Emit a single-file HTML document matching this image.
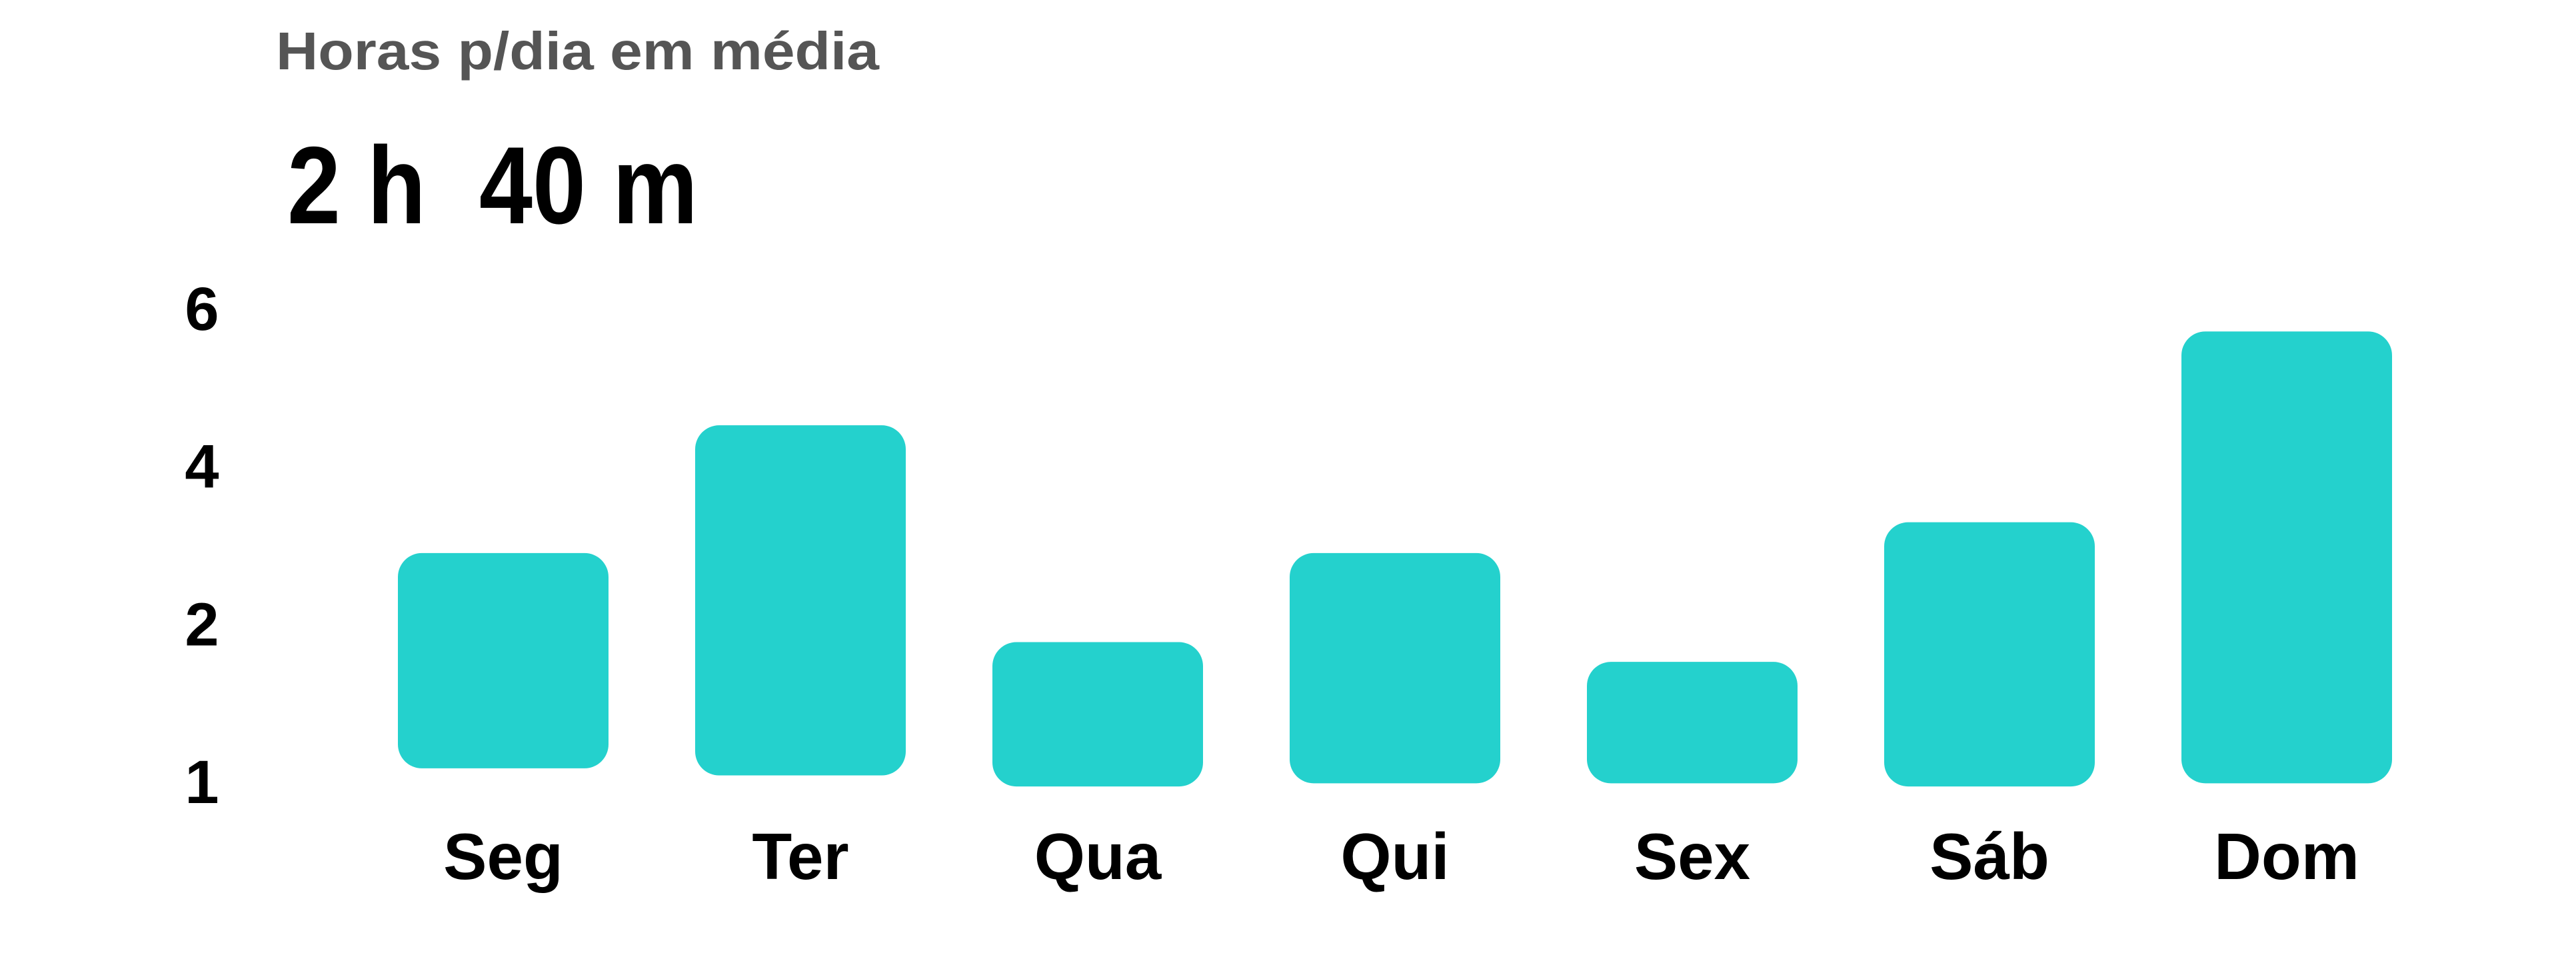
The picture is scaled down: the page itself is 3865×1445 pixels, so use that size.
<!DOCTYPE html>
<html><head><meta charset="utf-8"><style>
html,body{margin:0;padding:0;background:#fff;}
svg{display:block;font-family:"Liberation Sans",sans-serif;font-weight:bold;}
</style></head><body>
<svg id="chart" width="3865" height="1445" viewBox="0 0 3865 1445">
<text x="414" y="104" font-size="80" fill="#555555" textLength="905" lengthAdjust="spacingAndGlyphs">Horas p/dia em média</text>
<text x="431" y="335" font-size="165" fill="#000" textLength="616" lengthAdjust="spacingAndGlyphs" xml:space="preserve">2 h  40 m</text>
<g id="yaxis"></g>
<g id="bars"></g>
<g id="xaxis"></g>
</svg>
<script>
const categories = ["Seg","Ter","Qua","Qui","Sex","Sáb","Dom"];
const barTops = [2.9, 4.52, 1.77, 2.9, 1.52, 3.29, 5.71];
const barBottoms = [0.17, 0.08, -0.06, -0.02, -0.02, -0.06, -0.02];
const tickValues = [6, 4, 2, 0];
const tickLabels = ["6", "4", "2", "1"];

const NS = "http://www.w3.org/2000/svg";
const y = v => 1173 - (v / 6) * (1173 - 463);
const bandStart = 597, bandStep = 446, barW = 316;
const xc = i => bandStart + bandStep * i + barW / 2;

const yaxis = document.getElementById('yaxis');
tickValues.forEach((v, i) => {
  const t = document.createElementNS(NS, 'text');
  t.setAttribute('x', 303);
  t.setAttribute('y', y(v) + 32);
  t.setAttribute('text-anchor', 'middle');
  t.setAttribute('font-size', 92);
  t.setAttribute('fill', '#000');
  t.textContent = tickLabels[i];
  
  
  yaxis.appendChild(t);
});

const bars = document.getElementById('bars');
const xaxis = document.getElementById('xaxis');
categories.forEach((c, i) => {
  const r = document.createElementNS(NS, 'rect');
  const top = y(barTops[i]), bot = y(barBottoms[i]);
  r.setAttribute('x', xc(i) - barW / 2);
  r.setAttribute('y', top);
  r.setAttribute('width', barW);
  r.setAttribute('height', bot - top);
  r.setAttribute('rx', 36);
  r.setAttribute('fill', '#24d1cd');
  
  
  bars.appendChild(r);
  const t = document.createElementNS(NS, 'text');
  t.setAttribute('x', xc(i));
  t.setAttribute('y', 1319);
  t.setAttribute('text-anchor', 'middle');
  t.setAttribute('font-size', 98);
  t.setAttribute('fill', '#000');
  t.textContent = c;
  
  
  xaxis.appendChild(t);
});
</script>
</body></html>
